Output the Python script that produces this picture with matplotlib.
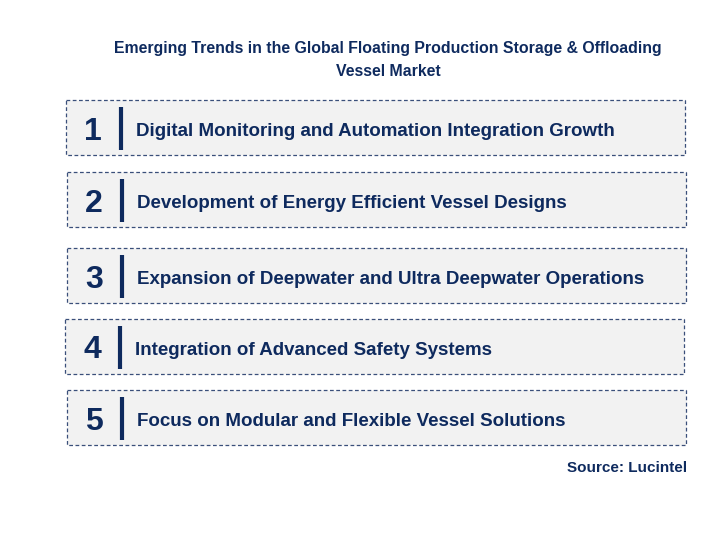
import matplotlib
matplotlib.use("Agg")
import matplotlib.pyplot as plt
from matplotlib.patches import Rectangle

title = "Emerging Trends in the Global Floating Production Storage & Offloading\nVessel Market"
numbers = ["1", "2", "3", "4", "5"]
trends = [
    "Digital Monitoring and Automation Integration Growth",
    "Development of Energy Efficient Vessel Designs",
    "Expansion of Deepwater and Ultra Deepwater Operations",
    "Integration of Advanced Safety Systems",
    "Focus on Modular and Flexible Vessel Solutions",
]
source = "Source: Lucintel"

box_x = [66, 67, 67, 65, 67]
box_y = [100, 172, 248, 319, 390]
box_w = 619
box_h = 55

navy = "#0e2a5e"
plt.rcParams['font.family'] = ['Liberation Sans', 'DejaVu Sans']
fig = plt.figure(figsize=(7.12, 5.41), dpi=100)
ax = fig.add_axes([0, 0, 1, 1])
ax.set_xlim(0, 712)
ax.set_ylim(541, 0)
ax.axis('off')

ax.text(388, 60, title, ha='center', va='center', fontsize=11.4, fontweight='bold',
        color=navy, linespacing=1.75)

for n, t, x, y in zip(numbers, trends, box_x, box_y):
    ax.add_patch(Rectangle((x, y), box_w, box_h, facecolor='#f2f2f2',
                           edgecolor='#3a4f7a', linestyle=(0, (3, 2)), linewidth=0.9))
    ax.text(x + 27, y + box_h / 2 + 4, n, ha='center', va='center', fontsize=23,
            fontweight='bold', color=navy)
    ax.plot([x + 55, x + 55], [y + 7, y + box_h - 5], color=navy, linewidth=3,
            solid_capstyle='butt')
    ax.text(x + 70, y + box_h / 2 + 4, t, ha='left', va='center', fontsize=13.5,
            fontweight='bold', color=navy)

ax.text(687, 468, source, ha='right', va='center', fontsize=11, fontweight='bold',
        color=navy)

fig.savefig("out.png", dpi=100)
